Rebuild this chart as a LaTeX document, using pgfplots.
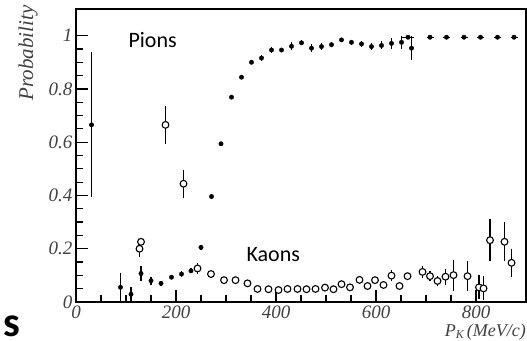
\documentclass[border=0pt]{standalone}
\usepackage{pgfplots}
\pgfplotsset{compat=1.18}
\usepackage{pgfplotstable}
\usepackage{fontspec}
\setmainfont{Liberation Serif}
\newfontfamily\calibri{Carlito}

\pgfplotstableread{
x y ex ey
31 0.665 0 0.272
89 0.055 0 0.055
110 0.029 0 0.029
130 0.107 0 0.03
150 0.080 0 0.015
170 0.070 0 0.01
191 0.093 0 0.008
211 0.105 0 0.01
230 0.117 0 0.01
250 0.205 0 0.008
271 0.396 0 0.008
290 0.594 0 0.008
311 0.769 0 0.008
331 0.844 0 0.008
351 0.900 0 0.008
371 0.916 0 0.01
391 0.946 0 0.012
411 0.946 0 0.008
431 0.960 0 0.015
451 0.973 0 0.01
471 0.953 0 0.015
491 0.959 0 0.012
511 0.966 0 0.01
531 0.984 0 0.008
551 0.975 0 0.01
571 0.969 0 0.012
591 0.959 0 0.012
611 0.963 0 0.015
631 0.971 0 0.02
651 0.975 0 0.025
664 0.994 12 0.005
671 0.953 0 0.045
708 0.994 7 0.005
741 0.994 7 0.005
776 0.994 7 0.005
809 0.994 7 0.005
843 0.994 7 0.005
876 0.994 7 0.005
}\pions

\pgfplotstableread{
x y ey
127 0.200 0.03
130 0.226 0.01
179 0.665 0.07
215 0.444 0.053
243 0.126 0.02
270 0.105 0.01
296 0.082 0.008
319 0.082 0.008
343 0.070 0.008
363 0.049 0.008
385 0.048 0.008
405 0.045 0.008
423 0.049 0.008
443 0.049 0.008
461 0.048 0.008
479 0.049 0.008
498 0.054 0.008
515 0.048 0.008
531 0.067 0.008
548 0.055 0.008
567 0.083 0.01
583 0.060 0.01
598 0.082 0.01
615 0.064 0.01
631 0.099 0.02
647 0.060 0.01
663 0.097 0.01
693 0.113 0.022
708 0.097 0.02
723 0.079 0.02
739 0.095 0.03
755 0.101 0.058
783 0.097 0.057
806 0.055 0.045
815 0.051 0.045
828 0.232 0.078
857 0.226 0.073
871 0.147 0.052
}\kaons

\begin{document}
\begin{tikzpicture}[x=1pt,y=1pt]
\begin{axis}[
  scale only axis, width=450pt, height=293pt,
  xmin=0, xmax=900, ymin=0, ymax=1.1,
  axis line style={line width=1.3pt},
  tick style={line width=1.2pt, black},
  tick align=inside, xtick pos=bottom, ytick pos=left,
  xtick={0,200,400,600,800}, ytick={0,0.2,0.4,0.6,0.8,1},
  minor x tick num=3, minor y tick num=3,
  major tick length=12pt, minor tick length=7pt,
  /pgf/number format/assume math mode=true,
  tick label style={font=\fontsize{19}{19}\selectfont\itshape, text=black!75},
  xticklabel style={yshift=0pt},
  error bars/error mark=none,
  error bars/error bar style={line width=1.2pt, black},
]
\addplot[only marks, mark=*, mark size=2.2pt, black,
  error bars/.cd, y dir=both, y explicit, x dir=both, x explicit]
  table[x=x, y=y, x error=ex, y error=ey]{\pions};
\addplot[only marks, mark=*, mark size=3.4pt,
  mark options={fill=white, draw=black, line width=1.1pt},
  error bars/.cd, y dir=both, y explicit]
  table[x=x, y=y, y error=ey]{\kaons};
\end{axis}
\node[rotate=90, anchor=east, font=\fontsize{21}{21}\selectfont\itshape, text=black!75] at (-48,300) {Probability};
\node[anchor=base west, font=\calibri\fontsize{22}{22}\selectfont] at (49,254) {Pions};
\node[anchor=base west, font=\calibri\fontsize{22}{22}\selectfont] at (167,41) {Kaons};
\node[anchor=base east, inner sep=0pt, font=\fontsize{18}{18}\selectfont\itshape, text=black!75] at (450,-34) {P\raisebox{-0.25ex}{\fontsize{12}{12}\selectfont K}\,(MeV/c)};
\node[anchor=base east, inner sep=0pt, font=\calibri\bfseries\fontsize{42}{42}\selectfont] at (-56,-34) {s};
\pgfresetboundingbox
\path[use as bounding box] (-76,-38) rectangle (451,302);
\end{tikzpicture}
\end{document}
